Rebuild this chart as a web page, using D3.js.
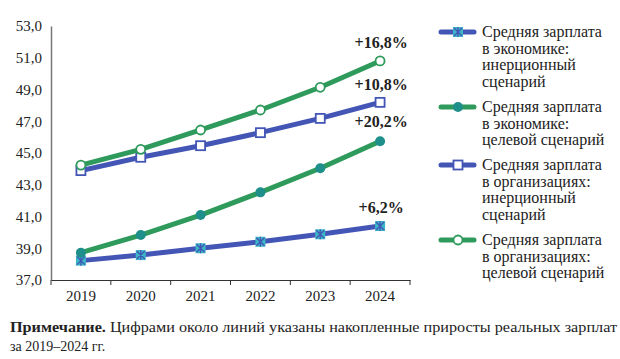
<!DOCTYPE html>
<html><head><meta charset="utf-8">
<script src="https://cdn.jsdelivr.net/npm/d3@7"></script>
<style>body{margin:0;background:#fff}svg{display:block}svg text{font-family:"Liberation Serif","DejaVu Serif",serif}</style>
</head><body>
<svg id="c" width="620" height="359"></svg>
<script>
const years = ["2019","2020","2021","2022","2023","2024"];
const econInertial = [38.22, 38.57, 39.0, 39.41, 39.88, 40.4];
const econTarget   = [38.72, 39.83, 41.09, 42.52, 44.04, 45.74];
const orgInertial  = [43.89, 44.73, 45.46, 46.28, 47.18, 48.19];
const orgTarget    = [44.24, 45.23, 46.45, 47.71, 49.14, 50.8];
const growthLabels = ["+6,2%", "+20,2%", "+10,8%", "+16,8%"];
const yTicks = [37, 39, 41, 43, 45, 47, 49, 51, 53];
const legendLines = [
  ["Средняя зарплата", "в экономике:", "инерционный", "сценарий"],
  ["Средняя зарплата", "в экономике:", "целевой сценарий"],
  ["Средняя зарплата", "в организациях:", "инерционный", "сценарий"],
  ["Средняя зарплата", "в организациях:", "целевой сценарий"]
];
const noteBold = "Примечание.";
const noteText1 = " Цифрами около линий указаны накопленные приросты реальных зарплат";
const noteText2 = "за 2019–2024 гг.";

const BLUE = "#4356b6", GREEN = "#2e9a5c", TEAL = "#1f8f8c", CYAN = "#3ab6c6";
const series = [
  {vals: econInertial, color: BLUE, marker: "x"},
  {vals: econTarget, color: GREEN, marker: "dot"},
  {vals: orgInertial, color: BLUE, marker: "sq"},
  {vals: orgTarget, color: GREEN, marker: "circ"}
];
const labelDy = [-13, -14, -12, -13];

const svg = d3.select("#c");
const x = d3.scaleBand().domain(years).range([51, 410]);
const y = d3.scaleLinear().domain([37, 53]).range([280, 26]);

const yAxis = svg.append("g").attr("transform", "translate(51,0)")
  .call(d3.axisLeft(y).tickValues(yTicks).tickSize(0).tickPadding(9)
    .tickFormat(d => d3.format(".1f")(d).replace(".", ",")));
yAxis.attr("font-family", null);
yAxis.select(".domain").attr("stroke", "#777").attr("stroke-width", 1.5);
yAxis.selectAll("text").attr("font-size", 15).attr("fill", "#222");

const xAxis = svg.append("g").attr("transform", "translate(0,280)")
  .call(d3.axisBottom(x).tickSize(0).tickPadding(10));
xAxis.attr("font-family", null);
xAxis.select(".domain").attr("stroke", "#333").attr("stroke-width", 1.2);
xAxis.selectAll("text").attr("font-size", 15).attr("fill", "#222");
const bounds = years.map(d => x(d)).concat([x.range()[1]]);
svg.append("g").selectAll("line").data(bounds).join("line")
  .attr("x1", d => d).attr("x2", d => d).attr("y1", 280).attr("y2", 285)
  .attr("stroke", "#333").attr("stroke-width", 1);

const cx = d => x(d) + x.bandwidth() / 2;
const line = d3.line().x((d, i) => cx(years[i])).y(d => y(d));

function drawMarker(g, mx, my, type, color) {
  if (type === "x") {
    g.append("rect").attr("x", mx - 5).attr("y", my - 5).attr("width", 10).attr("height", 10).attr("fill", CYAN);
    g.append("path").attr("d", `M${mx-4},${my-4}L${mx+4},${my+4}M${mx-4},${my+4}L${mx+4},${my-4}M${mx},${my-5}L${mx},${my+5}`)
      .attr("stroke", BLUE).attr("stroke-width", 1.3);
  } else if (type === "dot") {
    g.append("circle").attr("cx", mx).attr("cy", my).attr("r", 5).attr("fill", TEAL);
  } else if (type === "sq") {
    g.append("rect").attr("x", mx - 4.5).attr("y", my - 4.5).attr("width", 9).attr("height", 9)
      .attr("fill", "#fff").attr("stroke", color).attr("stroke-width", 1.8);
  } else {
    g.append("circle").attr("cx", mx).attr("cy", my).attr("r", 4.5)
      .attr("fill", "#fff").attr("stroke", color).attr("stroke-width", 1.8);
  }
}

series.forEach((s, k) => {
  const g = svg.append("g");
  g.append("path").datum(s.vals).attr("d", line).attr("fill", "none")
    .attr("stroke", s.color).attr("stroke-width", 5).attr("stroke-linejoin", "round");
  s.vals.forEach((v, i) => drawMarker(g, cx(years[i]), y(v), s.marker, s.color));
  g.append("text").attr("x", cx(years[5]) + 1).attr("y", y(s.vals[5]) + labelDy[k])
    .attr("text-anchor", "middle").attr("font-weight", "bold")
    .attr("font-size", 16).attr("fill", "#222").text(growthLabels[k]);
});

const legTop = [37, 112, 170, 245];
legendLines.forEach((lines, k) => {
  const s = series[k];
  const g = svg.append("g");
  const ly = legTop[k] - 5;
  g.append("line").attr("x1", 441).attr("x2", 474).attr("y1", ly).attr("y2", ly)
    .attr("stroke", s.color).attr("stroke-width", 5).attr("stroke-linecap", "round");
  drawMarker(g, 458, ly, s.marker, s.color);
  const t = g.append("text").attr("font-size", 16).attr("fill", "#222");
  lines.forEach((ln, j) => t.append("tspan").attr("x", 482).attr("y", legTop[k] + j * 16.7).text(ln));
});

const note = svg.append("text").attr("x", 10).attr("y", 332)
  .attr("font-size", 14).attr("fill", "#222")
  .attr("textLength", 607).attr("lengthAdjust", "spacingAndGlyphs");
note.append("tspan").attr("font-weight", "bold").text(noteBold);
note.append("tspan").text(noteText1);
svg.append("text").attr("x", 10).attr("y", 351)
  .attr("font-size", 14).attr("fill", "#222").text(noteText2);
</script>
</body></html>
